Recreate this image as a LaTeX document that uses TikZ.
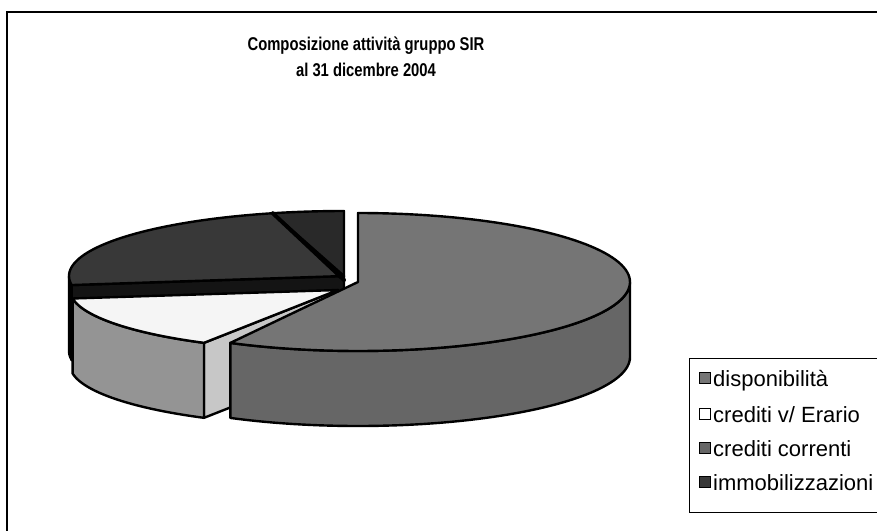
\documentclass[tikz,border=0pt]{standalone}
\usepackage{fontspec}
\setmainfont{Liberation Sans}
\newfontfamily\titlefont{Liberation Sans}[FakeStretch=0.8]
\definecolor{dispTop}{gray}{0.46}
\definecolor{dispSide}{gray}{0.40}
\definecolor{eraTop}{gray}{0.96}
\definecolor{eraSide}{gray}{0.58}
\definecolor{eraCut}{gray}{0.78}
\definecolor{corTop}{gray}{0.22}
\definecolor{corCut}{gray}{0.08}
\definecolor{immTop}{gray}{0.16}
\begin{document}
\begin{tikzpicture}[x=1pt,y=-1pt,
  edge/.style={draw=black,line width=2.4pt,line join=round},
  marker/.style={draw=black,line width=0.9pt,minimum width=11pt,minimum height=11pt,inner sep=0pt},
  legtext/.style={anchor=base west,inner sep=0pt,font=\fontsize{22}{25}\selectfont},
  ttl/.style={anchor=base,inner sep=0pt,font=\titlefont\bfseries\fontsize{18.5}{22}\selectfont}]
\useasboundingbox (0,0) rectangle (877,530);
\clip (0,0) rectangle (877,530);
\fill[white] (0,0) rectangle (877,530);
% outer frame
\draw[line width=1.6pt] (7,560) -- (7,12) -- (900,12);
% title
\node[ttl] (t1) at (366,50) {Composizione attività gruppo SIR};
\node[ttl] (t2) at (366,76) {al 31 dicembre 2004};
% ---- crediti correnti (dark) ----
\fill[corCut,edge] (344,276) -- ({344+275*cos(188)},{276-65*sin(188)}) -- ++(0,75) -- (344,351) -- cycle;
\fill[corTop,edge] plot[domain=180:188,samples=6] ({344+275*cos(\x)},{276-65*sin(\x)}) -- plot[domain=188:180,samples=6] ({344+275*cos(\x)},{276-65*sin(\x)+75}) -- cycle;
\fill[corTop,edge] (344,276) -- plot[domain=105:188,samples=50] ({344+275*cos(\x)},{276-65*sin(\x)}) -- cycle;
% ---- immobilizzazioni (darkest) ----
\fill[immTop,edge] (344,276) -- plot[domain=90:105,samples=12] ({344+275*cos(\x)},{276-65*sin(\x)}) -- cycle;
\draw[line width=4pt,line cap=round] (344,280) -- ({344+275*cos(105)},{276-65*sin(105)});
% ---- crediti v/ Erario (white) ----
\fill[eraCut,edge] (338,290) -- ({338+268*cos(240)},{290-61*sin(240)}) -- ++(0,75) -- (338,365) -- cycle;
\fill[eraSide,edge] plot[domain=188:240,samples=40] ({338+268*cos(\x)},{290-61*sin(\x)}) -- plot[domain=240:188,samples=40] ({338+268*cos(\x)},{290-61*sin(\x)+75}) -- cycle;
\fill[eraTop,edge] (338,290) -- plot[domain=188:240,samples=40] ({338+268*cos(\x)},{290-61*sin(\x)}) -- cycle;
% ---- disponibilità (main, exploded) ----
\fill[dispSide,edge] plot[domain=-118:0,samples=60] ({358+272*cos(\x)},{282-69*sin(\x)}) -- plot[domain=0:-118,samples=60] ({358+272*cos(\x)},{282-69*sin(\x)+75}) -- cycle;
\fill[dispTop,edge] (358,282) -- plot[domain=-118:90,samples=100] ({358+272*cos(\x)},{282-69*sin(\x)}) -- cycle;
% ---- legend ----
\draw[line width=1pt] (689,358) rectangle (900,512);
\node[marker,fill=dispTop] (m1) at (705,378) {};
\node[legtext] (l1) at (713,386) {disponibilità};
\node[marker,fill=white] (m2) at (705,414) {};
\node[legtext] (l2) at (713,422) {crediti v/ Erario};
\node[marker,fill=dispSide] (m3) at (705,448) {};
\node[legtext] (l3) at (713,456) {crediti correnti};
\node[marker,fill=corTop] (m4) at (705,482) {};
\node[legtext] (l4) at (713,490) {immobilizzazioni};
\end{tikzpicture}
\end{document}
